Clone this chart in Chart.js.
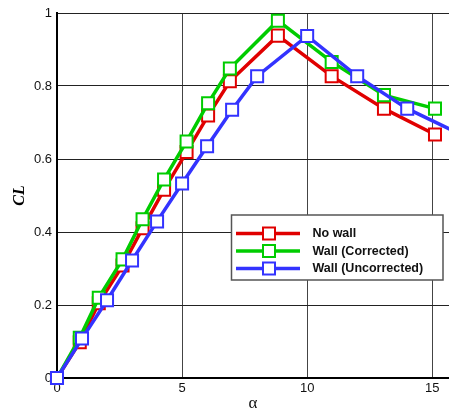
<!DOCTYPE html>
<html>
<head>
<meta charset="utf-8">
<script src="https://cdn.jsdelivr.net/npm/chart.js@4"></script>
<style>
  html, body { margin: 0; padding: 0; background: #fff; overflow: hidden; }
  #wrap { width: 449px; height: 410px; position: relative; }
</style>
</head>
<body>
<div id="wrap"><canvas id="clChart"></canvas></div>
<script>
// angle of attack (deg) and lift coefficient
var alphaCorr = [0, 0.91, 1.67, 2.62, 3.42, 4.28, 5.18, 6.04, 6.91, 8.83, 10.98, 13.07, 15.11];
var clNoWall = [0, 0.098, 0.205, 0.308, 0.41, 0.516, 0.619, 0.719, 0.813, 0.938, 0.827, 0.738, 0.667];
var clWallCorr = [0, 0.110, 0.220, 0.325, 0.435, 0.544, 0.648, 0.753, 0.848, 0.979, 0.866, 0.775, 0.738];
var alphaUncorr = [0, 1, 2, 3, 4, 5, 6, 7, 8, 10, 12, 14, 16];
var clWallUncorr = [0, 0.108, 0.213, 0.322, 0.429, 0.533, 0.635, 0.735, 0.827, 0.937, 0.827, 0.738, 0.672];
var seriesLabels = ['No wall', 'Wall (Corrected)', 'Wall (Uncorrected)'];
var xTicks = [0, 5, 10, 15];

function toPoints(xs, ys) {
    var pts = [];
    for (var i = 0; i < xs.length; i++) pts.push({ x: xs[i], y: ys[i] });
    return pts;
}

function makeSet(label, xs, ys, color, order) {
    return {
        label: label,
        data: toPoints(xs, ys),
        borderColor: color,
        backgroundColor: '#ffffff',
        borderWidth: 3.5,
        pointStyle: 'rect',
        pointRadius: 8.5,
        pointHoverRadius: 8.5,
        pointBorderWidth: 2,
        pointBorderColor: color,
        pointBackgroundColor: '#ffffff',
        tension: 0,
        order: order,
        clip: { left: 10, top: 10, right: 0, bottom: 10 }
    };
}

// legend box inside the plot
var boxLegend = {
    id: 'boxLegend',
    afterDraw: function (chart) {
        var c = chart.ctx;
        var x0 = 231.5, y0 = 215, w = 211.5, h = 65;
        c.save();
        c.fillStyle = '#ffffff';
        c.fillRect(x0, y0, w, h);
        c.strokeStyle = '#555555';
        c.lineWidth = 1.5;
        c.strokeRect(x0, y0, w, h);
        chart.data.datasets.forEach(function (ds, i) {
            var y = 233.5 + i * 17.5;
            c.strokeStyle = ds.borderColor;
            c.lineWidth = 3.5;
            c.beginPath();
            c.moveTo(236, y);
            c.lineTo(300, y);
            c.stroke();
            c.fillStyle = '#ffffff';
            c.fillRect(263, y - 6, 12, 12);
            c.lineWidth = 2;
            c.strokeRect(263, y - 6, 12, 12);
            c.fillStyle = '#111111';
            c.font = 'bold 12.5px "Liberation Sans", Arial, sans-serif';
            c.textBaseline = 'middle';
            c.textAlign = 'left';
            c.fillText(ds.label, 312.5, y + 0.5);
        });
        c.restore();
    }
};

var ctx = document.getElementById('clChart');
var clChart = new Chart(ctx, {
    type: 'line',
    data: {
        datasets: [
            makeSet(seriesLabels[0], alphaCorr, clNoWall, '#e00000', 3),
            makeSet(seriesLabels[1], alphaCorr, clWallCorr, '#00cc00', 2),
            makeSet(seriesLabels[2], alphaUncorr, clWallUncorr, '#3333ff', 1)
        ]
    },
    options: {
        responsive: true,
        maintainAspectRatio: false,
        animation: false,
        layout: { autoPadding: false, padding: { top: 13, left: 0, right: 0, bottom: 0 } },
        plugins: {
            legend: { display: false },
            tooltip: { enabled: false }
        },
        scales: {
            x: {
                type: 'linear',
                min: 0,
                max: 15.67,
                afterBuildTicks: function (axis) {
                    axis.ticks = xTicks.map(function (v) { return { value: v }; });
                },
                afterFit: function (scale) {
                    scale.height = 32;
                    scale.paddingLeft = 0;
                    scale.paddingRight = 0;
                },
                ticks: {
                    color: '#111',
                    padding: 3,
                    font: { size: 13, family: '"Liberation Sans", Arial, sans-serif' }
                },
                grid: { color: '#444', lineWidth: 1, drawTicks: false },
                border: { color: '#000', width: 2 },
                title: {
                    display: true,
                    text: 'α',
                    color: '#111',
                    font: { size: 17, family: '"Liberation Serif", "Times New Roman", serif', lineHeight: 0.8 },
                    padding: { top: 0, bottom: 0 }
                }
            },
            y: {
                min: 0,
                max: 1,
                ticks: {
                    stepSize: 0.2,
                    color: '#111',
                    padding: 5,
                    font: { size: 13, family: '"Liberation Sans", Arial, sans-serif' },
                    callback: function (v) { return String(Math.round(v * 10) / 10); }
                },
                afterFit: function (scale) { scale.width = 57; },
                grid: { color: '#222', lineWidth: 1, drawTicks: false },
                border: { color: '#000', width: 2 },
                title: {
                    display: true,
                    text: 'CL',
                    color: '#000',
                    font: { size: 16, weight: 'bold', style: 'italic', family: '"Liberation Serif", "Times New Roman", serif' },
                    padding: { top: 10, bottom: 0 }
                }
            }
        }
    },
    plugins: [boxLegend]
});
</script>
</body>
</html>
